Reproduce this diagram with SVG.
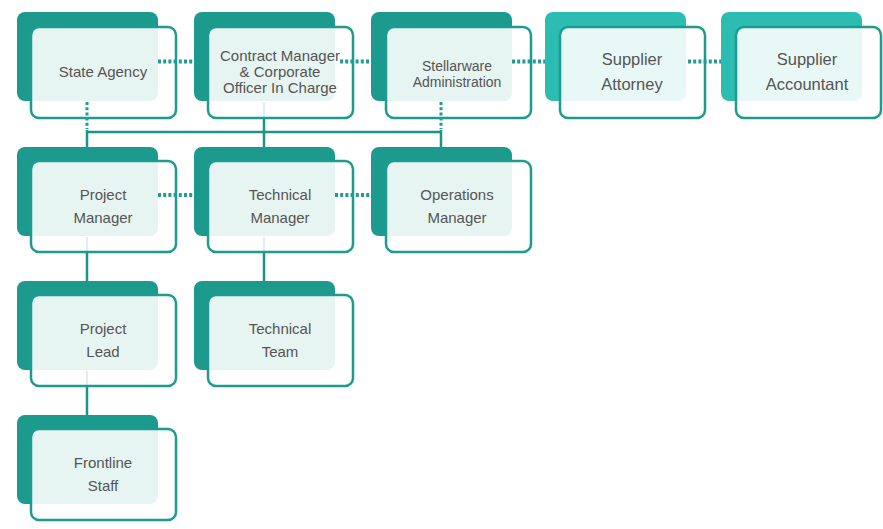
<svg xmlns="http://www.w3.org/2000/svg" width="883" height="529" viewBox="0 0 883 529">
<style>
.back{fill:#1b9a8d}
.back.lt{fill:#2dbcb1}
.front{fill:#ffffff;fill-opacity:0.89;stroke:#1f9a8e;stroke-width:2.5}
.lbl{font-family:"Liberation Sans",Arial,sans-serif;font-size:15px;fill:#555555;text-anchor:middle}
.lbl.sm{font-size:14px}
.lbl.big{font-size:16.5px}
.solid{stroke:#1d9488;stroke-width:2.5;fill:none}
.faint{stroke:#1d9488;stroke-width:2;stroke-opacity:0.15;fill:none}
.dot{stroke:#1f9d90;stroke-width:4;stroke-dasharray:3 2.2;fill:none}
.dotv{stroke:#1f9d90;stroke-width:3;stroke-dasharray:3 2.2;fill:none}
</style>
<rect width="883" height="529" fill="#ffffff"/>
<g id="state-agency">
<rect class="back" x="17" y="12" width="141" height="89" rx="8"/>
<rect class="front" x="31" y="27" width="145" height="91" rx="8"/>
<text class="lbl" x="103" y="77">State Agency</text>
</g>
<g id="contract-manager">
<rect class="back" x="194" y="12" width="141" height="89" rx="8"/>
<rect class="front" x="208" y="27" width="145" height="91" rx="8"/>
<text class="lbl" x="280" y="61">Contract Manager</text>
<text class="lbl" x="280" y="77">&amp; Corporate</text>
<text class="lbl" x="280" y="93">Officer In Charge</text>
</g>
<g id="stellarware-administration">
<rect class="back" x="371" y="12" width="141" height="89" rx="8"/>
<rect class="front" x="386" y="27" width="145" height="91" rx="8"/>
<text class="lbl sm" x="457" y="71">Stellarware</text>
<text class="lbl sm" x="457" y="87">Administration</text>
</g>
<g id="supplier-attorney">
<rect class="back lt" x="545" y="12" width="141" height="89" rx="8"/>
<rect class="front" x="560" y="27" width="145" height="91" rx="8"/>
<text class="lbl big" x="632" y="65">Supplier</text>
<text class="lbl big" x="632" y="90">Attorney</text>
</g>
<g id="supplier-accountant">
<rect class="back lt" x="721" y="12" width="141" height="89" rx="8"/>
<rect class="front" x="736" y="27" width="145" height="91" rx="8"/>
<text class="lbl big" x="807" y="65">Supplier</text>
<text class="lbl big" x="807" y="90">Accountant</text>
</g>
<g id="project-manager">
<rect class="back" x="17" y="147" width="141" height="89" rx="8"/>
<rect class="front" x="31" y="161" width="145" height="91" rx="8"/>
<text class="lbl" x="103" y="200">Project</text>
<text class="lbl" x="103" y="223">Manager</text>
</g>
<g id="technical-manager">
<rect class="back" x="194" y="147" width="141" height="89" rx="8"/>
<rect class="front" x="208" y="161" width="145" height="91" rx="8"/>
<text class="lbl" x="280" y="200">Technical</text>
<text class="lbl" x="280" y="223">Manager</text>
</g>
<g id="operations-manager">
<rect class="back" x="371" y="147" width="141" height="89" rx="8"/>
<rect class="front" x="386" y="161" width="145" height="91" rx="8"/>
<text class="lbl" x="457" y="200">Operations</text>
<text class="lbl" x="457" y="223">Manager</text>
</g>
<g id="project-lead">
<rect class="back" x="17" y="281" width="141" height="89" rx="8"/>
<rect class="front" x="31" y="295" width="145" height="91" rx="8"/>
<text class="lbl" x="103" y="334">Project</text>
<text class="lbl" x="103" y="357">Lead</text>
</g>
<g id="technical-team">
<rect class="back" x="194" y="281" width="141" height="89" rx="8"/>
<rect class="front" x="208" y="295" width="145" height="91" rx="8"/>
<text class="lbl" x="280" y="334">Technical</text>
<text class="lbl" x="280" y="357">Team</text>
</g>
<g id="frontline-staff">
<rect class="back" x="17" y="415" width="141" height="89" rx="8"/>
<rect class="front" x="31" y="429" width="145" height="91" rx="8"/>
<text class="lbl" x="103" y="468">Frontline</text>
<text class="lbl" x="103" y="491">Staff</text>
</g>
<g id="connectors">
<path class="faint" d="M264 102V117M87 237V251M264 237V251M87 371V385"/>
<path class="solid" d="M87 132H441M264 119V147M87 130V147M441 130V147M87 253V281M264 253V281M87 387V415"/>
<path class="dotv" d="M87 102V129M441 102V129"/>
<path class="dot" d="M158 61.5H193M340 61.5H371M512 61.5H545M688 61.5H721M158 195H193M335 195H371"/>
</g>
</svg>
